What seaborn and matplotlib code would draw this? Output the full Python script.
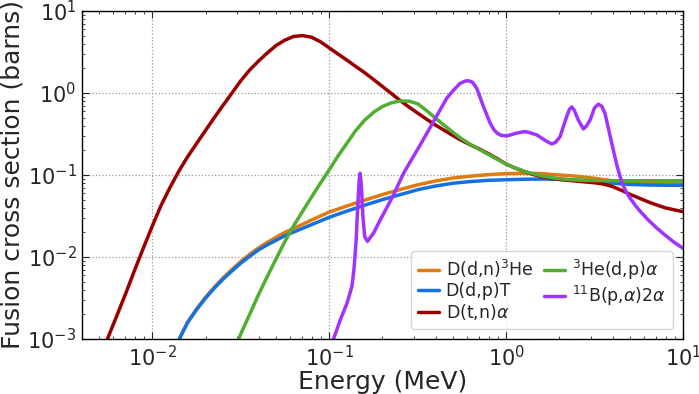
import numpy as np
import pandas as pd
import matplotlib
matplotlib.use("Agg")
import matplotlib.pyplot as plt
import seaborn as sns

# values (energy in MeV, cross section in barns)
ddn_energy = [0.0142, 0.0158, 0.0178, 0.0200, 0.0224, 0.0251, 0.0282, 0.0316, 0.0355, 0.0398, 0.0447, 0.0501,
              0.0562, 0.0631, 0.0708, 0.0794, 0.0891, 0.100, 0.126, 0.158, 0.200, 0.251, 0.316, 0.398,
              0.501, 0.631, 0.794, 1.00, 1.26, 1.58, 2.00, 2.51, 3.16, 3.98, 5.01, 6.31, 7.94, 10.0]
ddn_sigma = [0.00101, 0.00160, 0.00233, 0.00324, 0.00429, 0.00556, 0.00705, 0.00881, 0.0108, 0.0129, 0.0151, 0.0174,
             0.0200, 0.0224, 0.0251, 0.0282, 0.0316, 0.0353, 0.0419, 0.0492, 0.0578, 0.0664, 0.0759, 0.0845,
             0.0918, 0.0970, 0.101, 0.104, 0.105, 0.104, 0.100, 0.0966, 0.0912, 0.0851, 0.0822, 0.0813, 0.0809, 0.0807]

ddp_energy = [0.0142, 0.0158, 0.0178, 0.0200, 0.0224, 0.0251, 0.0282, 0.0316, 0.0355, 0.0398, 0.0447, 0.0501,
              0.0562, 0.0631, 0.0708, 0.0794, 0.0891, 0.100, 0.126, 0.158, 0.200, 0.251, 0.316, 0.398,
              0.501, 0.631, 0.794, 1.00, 1.26, 1.58, 2.00, 2.51, 3.16, 3.98, 5.01, 6.31, 7.94, 10.0]
ddp_sigma = [0.00100, 0.00158, 0.00229, 0.00316, 0.00417, 0.00537, 0.00676, 0.00841, 0.0102, 0.0122, 0.0141, 0.0160,
             0.0182, 0.0202, 0.0224, 0.0248, 0.0275, 0.0305, 0.0363, 0.0427, 0.0501, 0.0575, 0.0661, 0.0733,
             0.0794, 0.0832, 0.0861, 0.0875, 0.0887, 0.0893, 0.0887, 0.0867, 0.0832, 0.0794, 0.0767, 0.0755, 0.0750, 0.0748]

dt_energy = [0.00557, 0.00631, 0.00708, 0.00794, 0.00891, 0.0100, 0.0112, 0.0126, 0.0141, 0.0158, 0.0178,
             0.0200, 0.0224, 0.0251, 0.0282, 0.0316, 0.0355, 0.0398, 0.0447, 0.0501, 0.0562, 0.0631,
             0.0708, 0.0794, 0.0891, 0.100, 0.112, 0.126, 0.141, 0.158, 0.178, 0.200, 0.224, 0.251,
             0.282, 0.316, 0.355, 0.398, 0.447, 0.501, 0.562, 0.631, 0.708, 0.794, 0.891, 1.00,
             1.12, 1.26, 1.41, 1.58, 1.78, 2.00, 2.24, 2.51, 2.82, 3.16, 3.55, 3.98, 4.47, 5.01,
             5.62, 6.31, 7.08, 7.94, 8.91, 10.0]
dt_sigma = [0.00100, 0.00195, 0.00363, 0.00692, 0.0130, 0.0240, 0.0427, 0.0708, 0.111, 0.166, 0.243,
            0.351, 0.501, 0.708, 1.00, 1.41, 1.91, 2.45, 3.09, 3.80, 4.42, 4.90,
            5.01, 4.79, 4.22, 3.55, 2.99, 2.51, 2.11, 1.78, 1.46, 1.20, 0.989, 0.813,
            0.676, 0.569, 0.479, 0.407, 0.351, 0.302, 0.263, 0.232, 0.207, 0.182, 0.158, 0.136,
            0.122, 0.111, 0.102, 0.0955, 0.0912, 0.0881, 0.0861, 0.0841, 0.0822, 0.0804, 0.0776, 0.0724, 0.0653, 0.0582,
            0.0525, 0.0473, 0.0432, 0.0398, 0.0376, 0.0357]

dhe3_energy = [0.0308, 0.0316, 0.0355, 0.0398, 0.0447, 0.0501, 0.0562, 0.0631, 0.0708, 0.0794, 0.0891,
               0.100, 0.112, 0.126, 0.141, 0.158, 0.178, 0.200, 0.224, 0.251, 0.282, 0.316, 0.355,
               0.398, 0.447, 0.501, 0.562, 0.631, 0.708, 0.794, 0.891, 1.00, 1.12, 1.26, 1.41,
               1.58, 1.78, 2.00, 2.24, 2.51, 2.82, 3.16, 3.98, 6.31, 10.0]
dhe3_sigma = [0.00100, 0.00115, 0.00200, 0.00347, 0.00582, 0.00955, 0.0155, 0.0243, 0.0363, 0.0537, 0.0794,
              0.116, 0.170, 0.245, 0.347, 0.462, 0.582, 0.684, 0.759, 0.798, 0.794, 0.741, 0.610,
              0.495, 0.403, 0.331, 0.275, 0.234, 0.204, 0.178, 0.155, 0.136, 0.122, 0.111, 0.104,
              0.0977, 0.0933, 0.0902, 0.0881, 0.0867, 0.0859, 0.0855, 0.0851, 0.0851, 0.0851]

pb_energy = [0.1057, 0.1153, 0.1259, 0.1343, 0.1380, 0.1419, 0.1445, 0.1476, 0.1496, 0.1521, 0.1549, 0.1585,
             0.1644, 0.1778, 0.1941, 0.2307, 0.2630, 0.3266, 0.3882, 0.4613, 0.5012, 0.5495, 0.5888, 0.6124,
             0.6457, 0.6823, 0.7447, 0.8128, 0.8511, 0.8851, 0.9333, 1.009, 1.122, 1.253, 1.318, 1.489,
             1.698, 1.811, 1.905, 2.018, 2.113, 2.198, 2.280, 2.350, 2.427, 2.559, 2.735, 2.851,
             2.985, 3.162, 3.327, 3.467, 3.622, 3.802, 4.036, 4.217, 4.406, 4.571, 4.786, 5.012,
             5.370, 5.715, 6.310, 7.096, 7.943, 8.913, 10.0]
pb_sigma = [0.00100, 0.00170, 0.00272, 0.00437, 0.00708, 0.0158, 0.0372, 0.0871, 0.105, 0.0708, 0.0316, 0.0178,
            0.0155, 0.0195, 0.0282, 0.0570, 0.105, 0.232, 0.447, 0.861, 1.07, 1.31, 1.40, 1.41,
            1.35, 1.14, 0.681, 0.427, 0.359, 0.327, 0.305, 0.299, 0.320, 0.337, 0.335, 0.308,
            0.257, 0.239, 0.251, 0.293, 0.398, 0.514, 0.631, 0.676, 0.617, 0.469, 0.364, 0.398,
            0.469, 0.661, 0.731, 0.692, 0.565, 0.355, 0.202, 0.135, 0.0955, 0.0759, 0.0617, 0.0525,
            0.0427, 0.0363, 0.0288, 0.0226, 0.0184, 0.0151, 0.0128]

labels = [r'D(d,n)$^3$He', r'D(d,p)T', r'D(t,n)$\alpha$', r'$^3$He(d,p)$\alpha$', r'$^{11}$B(p,$\alpha$)2$\alpha$']
colors = ['#e07b12', '#1570e0', '#9b0000', '#52ae32', '#a033ff']

series = [(ddn_energy, ddn_sigma), (ddp_energy, ddp_sigma), (dt_energy, dt_sigma),
          (dhe3_energy, dhe3_sigma), (pb_energy, pb_sigma)]
frames = []
for lab, (e, s) in zip(labels, series):
    frames.append(pd.DataFrame({'energy': e, 'sigma': s, 'reaction': lab}))
df = pd.concat(frames, ignore_index=True)

sns.set_style("ticks")
plt.rcParams['font.family'] = ['DejaVu Sans']
plt.rcParams['mathtext.fontset'] = 'dejavusans'
plt.rcParams['xtick.direction'] = 'in'
plt.rcParams['ytick.direction'] = 'in'
plt.rcParams['xtick.top'] = True
plt.rcParams['ytick.right'] = True

fig = plt.figure(figsize=(6.99, 3.94), dpi=100)
ax = fig.add_axes([0.1173, 0.1396, 0.8598, 0.8325])

sns.lineplot(data=df, x='energy', y='sigma', hue='reaction', hue_order=labels,
             palette=dict(zip(labels, colors)), sort=False, estimator=None,
             linewidth=2.5, ax=ax)
for line in ax.get_lines():
    line.set_solid_joinstyle('round')

ax.set_xscale('log')
ax.set_yscale('log')
ax.set_xlim(0.004, 10)
ax.set_ylim(1e-3, 10)
ax.grid(True, which='major', linestyle=':', color='#999999', linewidth=0.9)
ax.tick_params(which='major', labelsize=15, length=5, width=0.8, pad=4)
ax.tick_params(which='minor', length=2.5, width=0.6)
for sp in ax.spines.values():
    sp.set_linewidth(1.0)
    sp.set_color('black')

ax.set_xlabel('Energy (MeV)', fontsize=18, labelpad=0)
ax.set_ylabel('Fusion cross section (barns)', fontsize=18, labelpad=2)

leg = ax.legend(loc='lower right', ncol=2, fontsize=12.5, handlelength=1.2, handletextpad=0.4,
                columnspacing=0.6, labelspacing=0.1, frameon=True, fancybox=True,
                borderaxespad=0.6)
leg.get_frame().set_edgecolor('#cccccc')
leg.get_frame().set_alpha(0.8)
for line in leg.get_lines():
    line.set_linewidth(2.5)

fig.savefig('out.png', dpi=100)
